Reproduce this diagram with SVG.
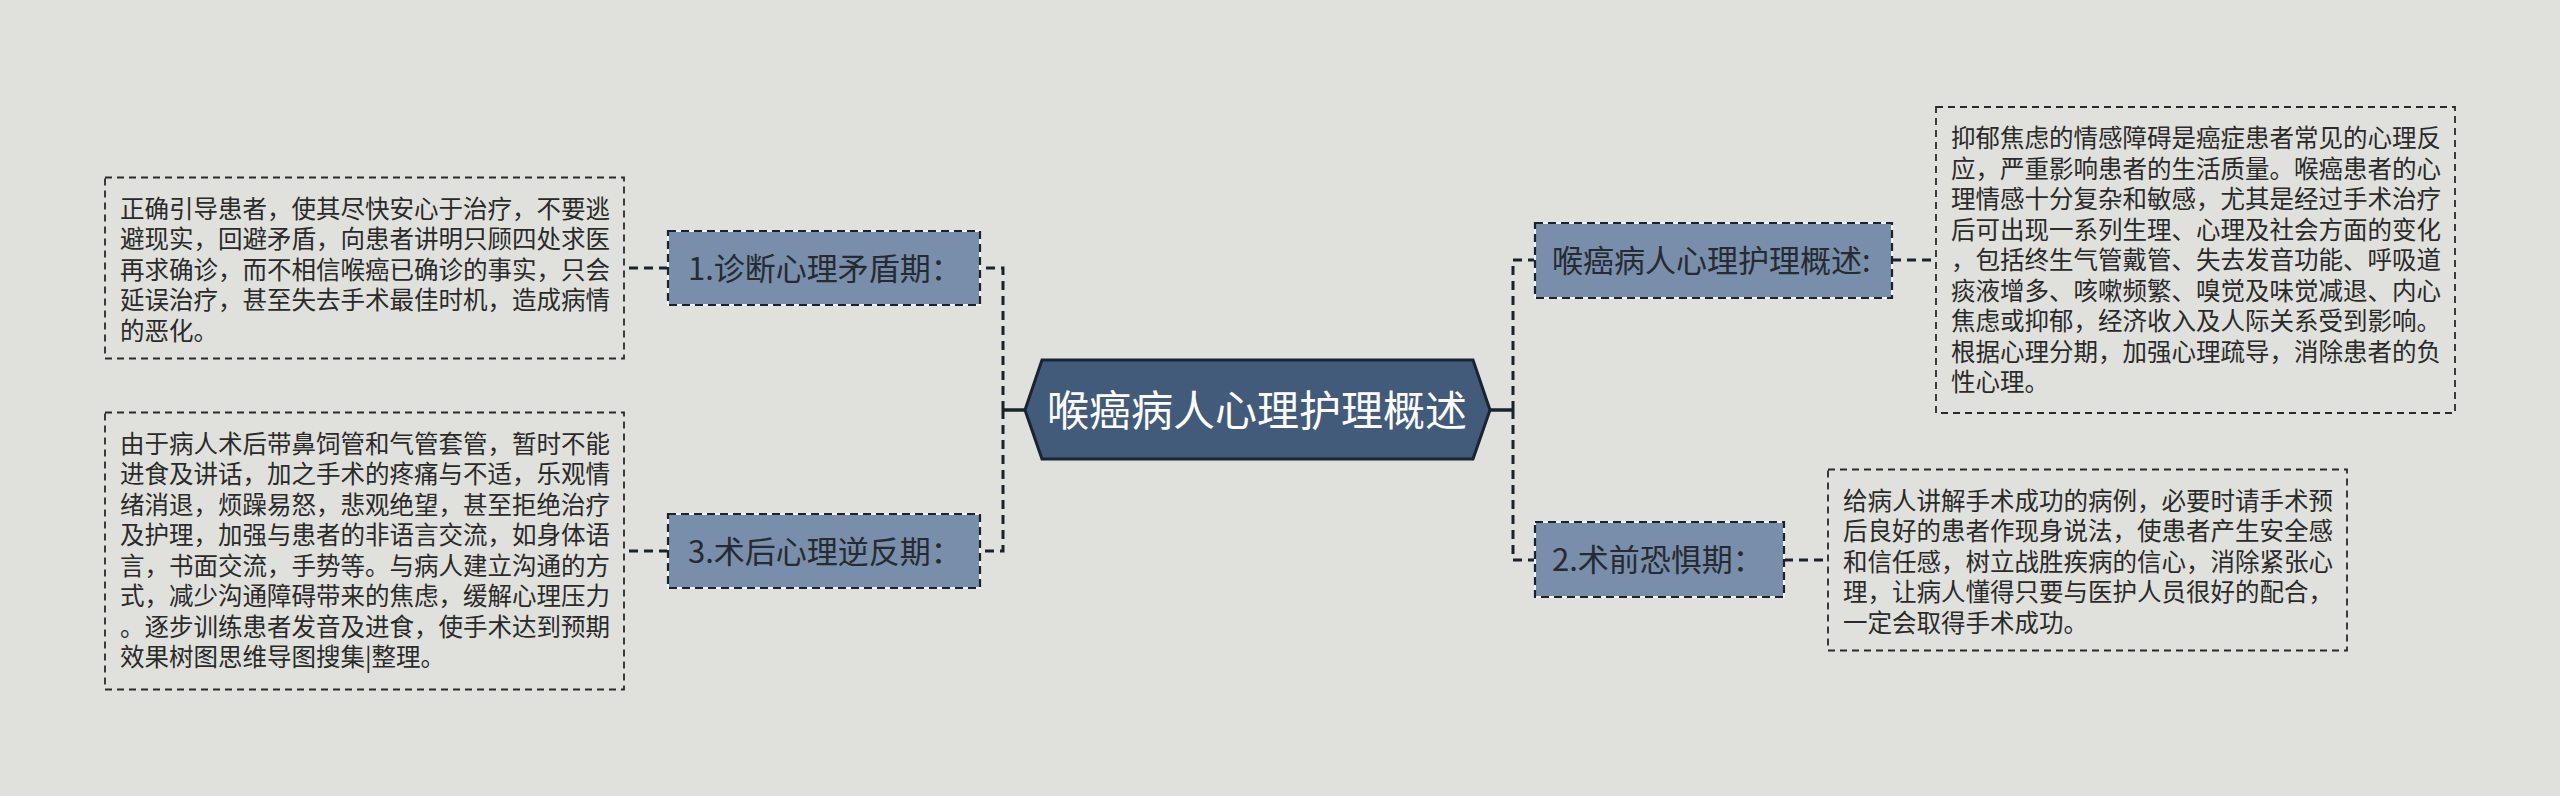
<svg xmlns="http://www.w3.org/2000/svg" width="2560" height="796" viewBox="0 0 2560 796">
<defs>
<style>
.bg{fill:#e0e1dc}
.conn{fill:none;stroke:#1a222c;stroke-width:3;stroke-dasharray:9,6}
.solid{fill:none;stroke:#1a222c;stroke-width:3.5}
.nodebg{fill:#788eaa;stroke:#f2f2f2;stroke-width:2}
.nodebd{fill:none;stroke:#1a222c;stroke-width:2.2;stroke-dasharray:8,5}
.note{fill:none;stroke:#2a2a2a;stroke-width:1.8;stroke-dasharray:7,5}
.lbl{font-family:"Noto Sans CJK SC","Noto Sans",sans-serif;font-size:31px;fill:#262a31}
.txt{font-family:"Noto Sans CJK SC","Noto Sans",sans-serif;font-size:24.5px;fill:#2a2a2a}
.ctr{font-family:"Noto Sans CJK SC","Noto Sans",sans-serif;font-size:42px;fill:#ffffff}
</style>
</defs>
<rect class="bg" x="0" y="0" width="2560" height="796"/>

<g id="connectors">
<path class="solid" d="M1025,410 H1003"/>
<path class="conn" d="M1003,410 V268 H980"/>
<path class="conn" d="M1003,410 V551 H980"/>
<path class="conn" d="M668,268 H624"/>
<path class="conn" d="M668,551 H624"/>
<path class="solid" d="M1490,410 H1513"/>
<path class="conn" d="M1513,410 V260 H1535"/>
<path class="conn" d="M1513,410 V560 H1535"/>
<path class="conn" d="M1892,260 H1936"/>
<path class="conn" d="M1784,560 H1828"/>
</g>

<g id="center">
<polygon points="1025,410 1042,360 1473,360 1490,410 1473,459 1042,459" fill="#435b7a" stroke="#1a2431" stroke-width="3"/>
<text class="ctr" x="1257" y="425.5" text-anchor="middle">喉癌病人心理护理概述</text>
</g>

<g id="node1">
<rect class="nodebg" x="668" y="231" width="312" height="74"/>
<rect class="nodebd" x="668" y="231" width="312" height="74"/>
<text class="lbl" x="688" y="279.5">1.诊断心理矛盾期：</text>
</g>

<g id="node3">
<rect class="nodebg" x="668" y="514" width="312" height="74"/>
<rect class="nodebd" x="668" y="514" width="312" height="74"/>
<text class="lbl" x="688" y="562.5">3.术后心理逆反期：</text>
</g>

<g id="node-overview">
<rect class="nodebg" x="1535" y="223" width="357" height="75"/>
<rect class="nodebd" x="1535" y="223" width="357" height="75"/>
<text class="lbl" x="1552" y="271.5">喉癌病人心理护理概述:</text>
</g>

<g id="node2">
<rect class="nodebg" x="1535" y="522" width="249" height="75"/>
<rect class="nodebd" x="1535" y="522" width="249" height="75"/>
<text class="lbl" x="1552" y="571">2.术前恐惧期：</text>
</g>

<g id="note1">
<rect class="note" x="105" y="177.5" width="519" height="181"/>
<text class="txt" x="120">
<tspan x="120" y="217.5">正确引导患者，使其尽快安心于治疗，不要逃</tspan>
<tspan x="120" y="248">避现实，回避矛盾，向患者讲明只顾四处求医</tspan>
<tspan x="120" y="278.5">再求确诊，而不相信喉癌已确诊的事实，只会</tspan>
<tspan x="120" y="309">延误治疗，甚至失去手术最佳时机，造成病情</tspan>
<tspan x="120" y="339.5">的恶化。</tspan>
</text>
</g>

<g id="note3">
<rect class="note" x="105" y="412.5" width="519" height="277"/>
<text class="txt" x="120">
<tspan x="120" y="452.5">由于病人术后带鼻饲管和气管套管，暂时不能</tspan>
<tspan x="120" y="483">进食及讲话，加之手术的疼痛与不适，乐观情</tspan>
<tspan x="120" y="513.5">绪消退，烦躁易怒，悲观绝望，甚至拒绝治疗</tspan>
<tspan x="120" y="544">及护理，加强与患者的非语言交流，如身体语</tspan>
<tspan x="120" y="574.5">言，书面交流，手势等。与病人建立沟通的方</tspan>
<tspan x="120" y="605">式，减少沟通障碍带来的焦虑，缓解心理压力</tspan>
<tspan x="120" y="635.5">。逐步训练患者发音及进食，使手术达到预期</tspan>
<tspan x="120" y="666">效果树图思维导图搜集|整理。</tspan>
</text>
</g>

<g id="note-overview">
<rect class="note" x="1936" y="107" width="519" height="306"/>
<text class="txt" x="1951">
<tspan x="1951" y="147">抑郁焦虑的情感障碍是癌症患者常见的心理反</tspan>
<tspan x="1951" y="177.5">应，严重影响患者的生活质量。喉癌患者的心</tspan>
<tspan x="1951" y="208">理情感十分复杂和敏感，尤其是经过手术治疗</tspan>
<tspan x="1951" y="238.5">后可出现一系列生理、心理及社会方面的变化</tspan>
<tspan x="1951" y="269">，包括终生气管戴管、失去发音功能、呼吸道</tspan>
<tspan x="1951" y="299.5">痰液增多、咳嗽频繁、嗅觉及味觉减退、内心</tspan>
<tspan x="1951" y="330">焦虑或抑郁，经济收入及人际关系受到影响。</tspan>
<tspan x="1951" y="360.5">根据心理分期，加强心理疏导，消除患者的负</tspan>
<tspan x="1951" y="391">性心理。</tspan>
</text>
</g>

<g id="note2">
<rect class="note" x="1828" y="469.5" width="519" height="181"/>
<text class="txt" x="1843">
<tspan x="1843" y="509.5">给病人讲解手术成功的病例，必要时请手术预</tspan>
<tspan x="1843" y="540">后良好的患者作现身说法，使患者产生安全感</tspan>
<tspan x="1843" y="570.5">和信任感，树立战胜疾病的信心，消除紧张心</tspan>
<tspan x="1843" y="601">理，让病人懂得只要与医护人员很好的配合，</tspan>
<tspan x="1843" y="631.5">一定会取得手术成功。</tspan>
</text>
</g>
</svg>
